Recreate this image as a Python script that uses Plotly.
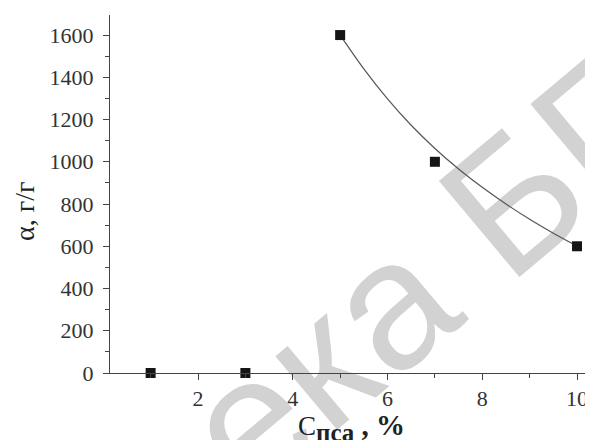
import math
import plotly.graph_objects as go

# measured points
x_points = [1, 3, 5, 7, 10]
y_points = [0, 0, 1600, 1000, 600]

# fitted curve
fit_x = [5, 5.5, 6, 6.5, 7, 7.5, 8, 8.5, 9, 9.5, 10]
fit_y = [1600, 1440, 1298, 1173, 1063, 966, 879, 800, 728, 662, 601]

x_ticks = [2, 4, 6, 8, 10]
y_ticks = [0, 200, 400, 600, 800, 1000, 1200, 1400, 1600]

OFF = 8  # page body margin
W, H = 585, 432
L, R, T = 110 - OFF, 0, 15 - OFF
B = H - (373 - OFF)
pw, ph = W - L - R, H - T - B


def px(X):
    """page pixel x -> paper coordinate"""
    return (X - OFF - L) / pw


def py(Y):
    """page pixel y -> paper coordinate"""
    return (H - B - (Y - OFF)) / ph


fig = go.Figure()

fig.add_trace(go.Scatter(
    x=fit_x, y=fit_y, mode="lines",
    line=dict(color="#555555", width=1.2, shape="spline", smoothing=0.8),
    showlegend=False, hoverinfo="skip",
))
fig.add_trace(go.Scatter(
    x=x_points, y=y_points, mode="markers",
    marker=dict(symbol="square", size=10, color="#151515"),
    cliponaxis=False, showlegend=False,
))

# watermark (behind the chart)
ang = 40
cx, cy = 552, 145
dx, dy = 100 * math.cos(math.radians(ang)), 100 * math.sin(math.radians(ang))
fig.add_shape(
    type="line", xref="paper", yref="paper",
    x0=px(cx - dx), y0=py(cy + dy), x1=px(cx + dx), y1=py(cy - dy),
    line=dict(color="rgba(0,0,0,0)", width=1),
    layer="below",
    label=dict(text="ека БГУИР", textangle=-ang, textposition="middle",
               yanchor="middle", padding=0,
               font=dict(family="Liberation Sans", size=182, color="#d2d2d2")),
)

axis_common = dict(
    showgrid=False, zeroline=False, showline=True,
    linecolor="#444444", linewidth=1,
    ticks="outside", ticklen=6, tickwidth=1, tickcolor="#444444",
    tickfont=dict(family="Liberation Serif", size=22, color="#333333"),
)

fig.update_xaxes(
    range=[0.1425, 10.337], tickvals=x_ticks,
    minor=dict(dtick=1, tick0=0, ticks="outside", ticklen=4, tickcolor="#444444"),
    **axis_common,
)
fig.update_yaxes(
    range=[0, 1695], tickvals=y_ticks, ticklabelstandoff=5,
    minor=dict(dtick=100, tick0=0, ticks="outside", ticklen=4, tickcolor="#444444"),
    **axis_common,
)

fig.add_annotation(
    xref="paper", yref="paper", x=px(351), y=py(427),
    text="C<sub><b><span style='font-size:25px'>пса</span></b></sub>"
         "<b><span style='font-size:29px'> , %</span></b>",
    showarrow=False,
    font=dict(family="Liberation Serif", size=27, color="#222222"),
    xanchor="center", yanchor="middle",
)
fig.add_annotation(
    xref="paper", yref="paper", x=px(24), y=py(212),
    text="α, г/г", textangle=-90, showarrow=False,
    font=dict(family="Liberation Serif", size=28, color="#222222"),
    xanchor="center", yanchor="middle",
)

fig.update_layout(
    width=W, height=H,
    margin=dict(l=L, r=R, t=T, b=B),
    paper_bgcolor="white", plot_bgcolor="rgba(0,0,0,0)",
    showlegend=False,
)

fig.write_html("out.html")
